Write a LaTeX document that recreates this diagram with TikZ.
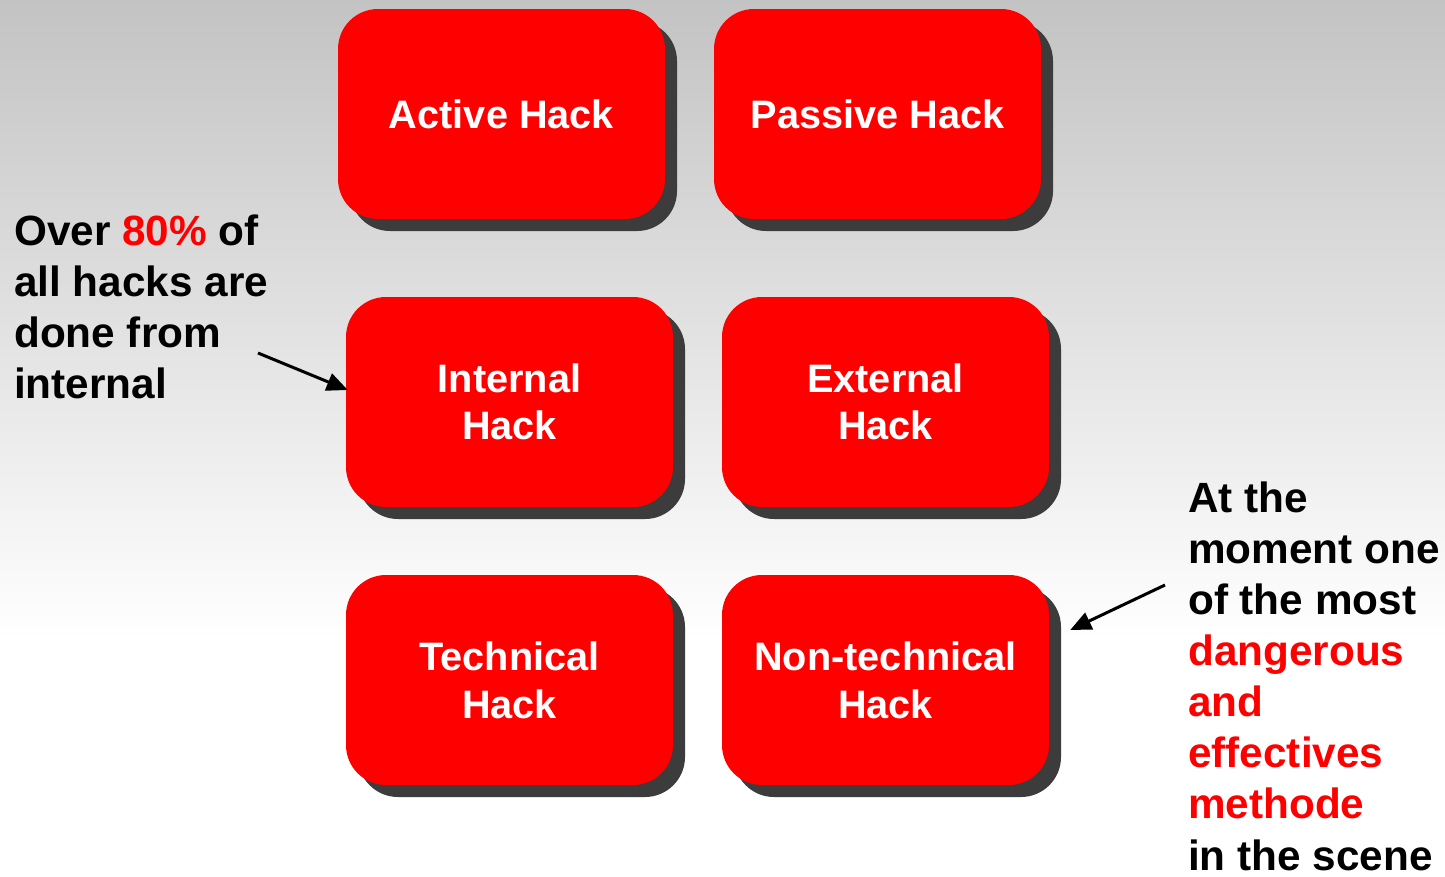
\documentclass[tikz,border=0pt]{standalone}
\usepackage{fontspec}
\setmainfont{Liberation Sans}
\usetikzlibrary{shadows,arrows.meta}
\definecolor{bgtop}{HTML}{C3C3C3}
\definecolor{shadowgray}{HTML}{3C3C3C}
\definecolor{hackred}{HTML}{FF0000}
\tikzset{
  hackbox/.style={rectangle, rounded corners=40pt, fill=hackred,
    minimum width=327pt, minimum height=210pt, inner sep=0pt,
    align=center, text=white,
    font=\fontsize{39.7}{47.6}\selectfont\bfseries,
    drop shadow={shadow xshift=12pt, shadow yshift=-12pt, fill=shadowgray, opacity=1}},
  note/.style={align=left, inner sep=0pt, anchor=base west,
    font=\fontsize{42.3}{51.1}\selectfont\bfseries},
  pointer/.style={-{Triangle[length=21pt,width=18pt]}, line width=3pt}
}
\begin{document}
\begin{tikzpicture}[x=1pt,y=-1pt]
\useasboundingbox (0,0) rectangle (1445,876);
\shade[top color=bgtop, bottom color=white] (0,0) rectangle (1445,641);
\fill[white] (0,640) rectangle (1445,876);

\node[hackbox] (act) at (501.5,114) {Active Hack};
\node[hackbox] (pas) at (877.5,114) {Passive Hack};
\node[hackbox] (int) at (509.5,402) {Internal\\Hack};
\node[hackbox] (ext) at (885.5,402) {External\\Hack};
\node[hackbox] (tec) at (509.5,680) {Technical\\Hack};
\node[hackbox] (nt)  at (885.5,680) {Non-technical\\Hack};

\node[note] (left) at (14,398.3) {Over \textcolor{hackred}{80\%} of\\all hacks are\\done from\\internal};
\node[note] (right) at (1188,870) {At the\\moment one\\of the most\\\textcolor{hackred}{dangerous}\\\textcolor{hackred}{and}\\\textcolor{hackred}{effectives}\\\textcolor{hackred}{methode}\\in the scene};

\coordinate (la) at (258,353);
\coordinate (ra) at (1165,585);
\draw[pointer] (la) -- ([shift={(2pt,12pt)}]int.west);
\draw[pointer] (ra) -- ([shift={(21pt,50pt)}]nt.east);
\end{tikzpicture}
\end{document}
